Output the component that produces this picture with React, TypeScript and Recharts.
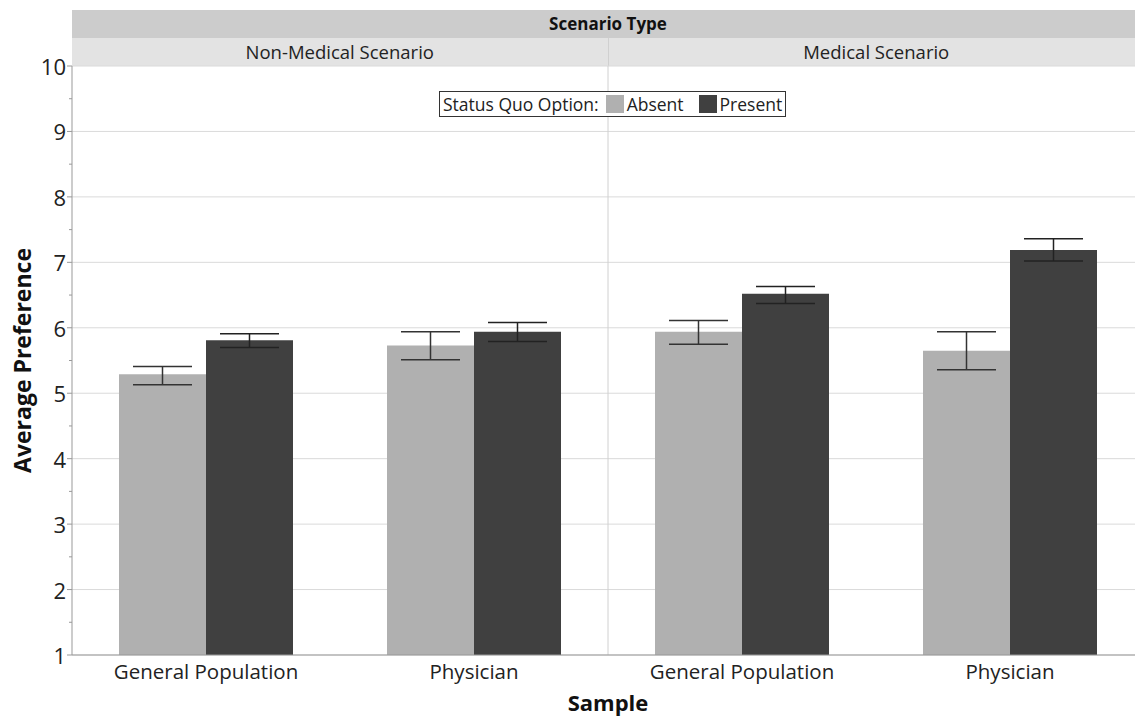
import { BarChart, Bar, XAxis, YAxis, CartesianGrid, ErrorBar, ReferenceLine, Label } from 'recharts'

const FONT = '"Open Sans", "Noto Sans", sans-serif'

// Scenario Type panels and the Sample categories inside them
const scenarios = ['Non-Medical Scenario', 'Medical Scenario']
const samples = ['General Population', 'Physician', 'General Population', 'Physician']
const keys = ['nm-gp', 'nm-ph', 'm-gp', 'm-ph']

// Status Quo Option: Absent
const absent = [5.29, 5.73, 5.94, 5.65]
const absentLow = [5.13, 5.51, 5.75, 5.36]
const absentHigh = [5.41, 5.94, 6.11, 5.94]

// Status Quo Option: Present
const present = [5.81, 5.94, 6.52, 7.19]
const presentLow = [5.7, 5.79, 6.37, 7.02]
const presentHigh = [5.91, 6.08, 6.63, 7.36]

const yTicks = [1, 1.5, 2, 2.5, 3, 3.5, 4, 4.5, 5, 5.5, 6, 6.5, 7, 7.5, 8, 8.5, 9, 9.5, 10]
const yMajor = [1, 2, 3, 4, 5, 6, 7, 8, 9, 10]

const COLORS = { absent: '#b0b0b0', present: '#404040' }

const data = keys.map((key, i) => ({
  key,
  absent: absent[i],
  absentErr: [absent[i] - absentLow[i], absentHigh[i] - absent[i]],
  present: present[i],
  presentErr: [present[i] - presentLow[i], presentHigh[i] - present[i]],
}))

function YTick({ x, y, payload }: any) {
  const major = Number.isInteger(payload.value)
  return (
    <g>
      <line x1={x} x2={x - (major ? 5 : 3)} y1={y} y2={y} stroke="#999" />
      {major && (
        <text x={x - 6} y={y} textAnchor="end" dominantBaseline="central" fontSize={22} fill="#222" fontFamily={FONT}>
          {payload.value}
        </text>
      )}
    </g>
  )
}

function LegendBox() {
  const sw = (c: string) => (
    <span style={{ display: 'inline-block', width: 18, height: 18, background: c, marginRight: 3 }} />
  )
  return (
    <div style={{
      position: 'absolute', left: 439, top: 91, height: 26, boxSizing: 'border-box',
      display: 'flex', alignItems: 'center', border: '1px solid #333', background: '#fff',
      padding: '0 3px', fontSize: 17.5, color: '#222', whiteSpace: 'nowrap',
    }}>
      <span style={{ marginRight: 7 }}>Status Quo Option:</span>
      {sw(COLORS.absent)}
      <span style={{ marginRight: 15 }}>Absent</span>
      {sw(COLORS.present)}
      <span>Present</span>
    </div>
  )
}

export default function App() {
  return (
    <div style={{ position: 'absolute', left: 0, top: 0, width: 1135, height: 718, overflow: 'hidden', background: '#fff', fontFamily: FONT }}>
      {/* header bands */}
      <div style={{ position: 'absolute', left: 72, top: 10, width: 1072, height: 28, background: '#cccccc', textAlign: 'center', fontSize: 17, fontWeight: 700, lineHeight: '28px', color: '#111' }}>
        Scenario Type
      </div>
      <div style={{ position: 'absolute', left: 72, top: 38, width: 1072, height: 28, background: '#e3e3e3', display: 'flex', fontSize: 18.5, lineHeight: '28px', color: '#222' }}>
        {scenarios.map((s, i) => (
          <div key={s} style={{ flex: 1, textAlign: 'center', borderLeft: i > 0 ? '1px solid #d0d0d0' : 'none' }}>{s}</div>
        ))}
      </div>
      <div style={{ position: 'absolute', left: 0, top: 0 }}>
        <BarChart width={1150} height={718} data={data} margin={{ top: 66, right: 6, left: 0, bottom: 0 }} barGap={0} barSize={87}>
          <CartesianGrid vertical={false} stroke="#dadada" horizontalValues={yMajor} />
          <XAxis
            dataKey="key"
            height={63}
            axisLine={{ stroke: '#999' }}
            tickLine={false}
            tickSize={0}
            tickMargin={9}
            tickFormatter={(_v: any, i: number) => samples[i]}
            tick={{ fontSize: 20.5, fill: '#222', fontFamily: FONT }}
          >
            <Label value="Sample" position="insideBottom" offset={7} style={{ fontSize: 22, fontWeight: 700, fill: '#111', fontFamily: FONT }} />
          </XAxis>
          <YAxis
            domain={[1, 10]}
            ticks={yTicks}
            interval={0}
            width={72}
            axisLine={{ stroke: '#999' }}
            tickLine={false}
            tickSize={0}
            tickMargin={0}
            tick={<YTick />}
          >
            <Label
              content={({ viewBox }: any) => {
                const cx = viewBox.x + 22
                const cy = viewBox.y + viewBox.height / 2
                return (
                  <text x={cx} y={cy} transform={`rotate(-90 ${cx} ${cy})`} textAnchor="middle" dominantBaseline="central" fontSize={23} fontWeight={700} fill="#111" fontFamily={FONT}>
                    Average Preference
                  </text>
                )
              }}
            />
          </YAxis>
          <ReferenceLine x="m-gp" position="start" stroke="#d0d0d0" />
          <Bar dataKey="absent" name="Absent" fill={COLORS.absent} isAnimationActive={false}>
            <ErrorBar dataKey="absentErr" width={29.5} stroke="#333" strokeWidth={1.5} isAnimationActive={false} />
          </Bar>
          <Bar dataKey="present" name="Present" fill={COLORS.present} isAnimationActive={false}>
            <ErrorBar dataKey="presentErr" width={29.5} stroke="#222" strokeWidth={1.5} isAnimationActive={false} />
          </Bar>
        </BarChart>
      </div>
      <LegendBox />
    </div>
  )
}
